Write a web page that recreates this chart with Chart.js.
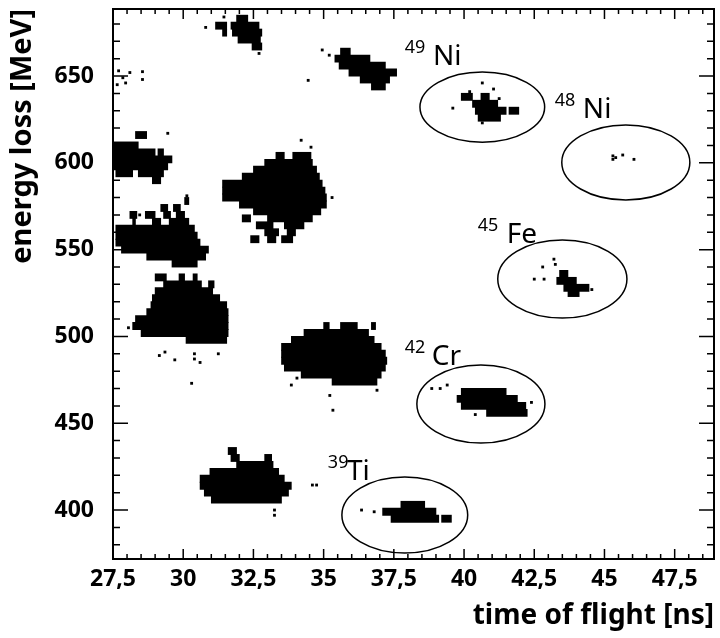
<!DOCTYPE html>
<html>
<head>
<meta charset="utf-8">
<script src="https://cdn.jsdelivr.net/npm/chart.js@4/dist/chart.umd.min.js"></script>
<style>
  html, body { margin: 0; padding: 0; background: #fff; }
  canvas { display: block; }
</style>
</head>
<body>
<canvas id="c" width="720" height="638"></canvas>
<script>
// rows of the 2D histogram: [energy loss MeV, tof from, tof to]
const blobTop = [
  [683, 31.9, 32.3],
  [679, 31.15, 31.55], [679, 31.7, 32.7],
  [675, 31.4, 31.55], [675, 31.75, 32.8],
  [671, 31.95, 32.75],
  [667, 32.45, 32.8]
];
const blobNi49 = [
  [664, 35.6, 35.95],
  [660, 35.4, 36.65],
  [656, 35.55, 37.2],
  [652, 35.9, 37.6],
  [648, 36.3, 37.35],
  [644, 36.7, 37.2]
];
const blobLeft600 = [
  [616, 28.3, 28.7],
  [610, 27.5, 28.4],
  [606, 27.5, 29.0], [606, 29.1, 29.3],
  [602, 27.5, 29.6],
  [598, 27.5, 29.45],
  [594, 27.6, 28.2], [594, 28.4, 29.3],
  [590, 28.9, 29.2]
];
const blobBig580 = [
  [604, 33.3, 33.6], [604, 33.9, 34.55],
  [600, 32.9, 34.6],
  [596, 32.5, 34.75],
  [592, 32.1, 34.85],
  [588, 31.4, 34.95],
  [584, 31.4, 35.05],
  [580, 31.4, 35.1],
  [576, 32.0, 35.1],
  [572, 32.5, 34.9],
  [568, 32.1, 32.4], [568, 33.0, 34.6],
  [564, 32.6, 33.2], [564, 33.6, 34.3],
  [560, 32.9, 33.4], [560, 33.7, 34.0],
  [556, 32.4, 32.7], [556, 33.0, 33.3], [556, 33.5, 33.9]
];
const blobLeft553 = [
  [578, 30.05, 30.2],
  [574, 29.2, 29.45], [574, 29.65, 29.9],
  [570, 28.1, 28.35], [570, 28.65, 29.0], [570, 29.3, 29.55], [570, 29.75, 30.05],
  [566, 28.2, 28.3], [566, 28.9, 29.2], [566, 29.5, 30.2],
  [562, 27.6, 30.4],
  [558, 27.6, 30.5],
  [554, 27.6, 30.6],
  [550, 27.8, 30.9],
  [546, 28.7, 30.8],
  [542, 29.6, 30.5]
];
const blob510 = [
  [534, 29.0, 29.4], [534, 29.85, 30.05], [534, 30.35, 30.5],
  [530, 29.3, 30.65], [530, 30.9, 31.1],
  [526, 29.0, 31.05],
  [522, 28.9, 31.3],
  [518, 28.85, 31.55],
  [514, 28.7, 31.6],
  [510, 28.3, 31.6],
  [506, 28.2, 31.6],
  [502, 28.5, 31.6],
  [498, 30.1, 31.55]
];
const blob487 = [
  [506, 35.0, 35.2], [506, 35.6, 36.2], [506, 36.7, 36.85],
  [502, 34.3, 36.6],
  [498, 33.85, 36.8],
  [494, 33.5, 37.05],
  [490, 33.5, 37.2],
  [486, 33.5, 37.25],
  [482, 33.6, 37.2],
  [478, 34.2, 37.05],
  [474, 35.3, 36.9]
];
const blob418 = [
  [434, 31.6, 31.9],
  [430, 31.7, 32.0], [430, 32.9, 33.15],
  [426, 31.9, 33.2],
  [422, 30.95, 33.4],
  [418, 30.6, 33.6],
  [414, 30.6, 33.85],
  [410, 30.75, 33.75],
  [406, 31.0, 33.5]
];
const blobNi48in = [
  [638, 39.9, 40.3], [638, 40.6, 40.9],
  [634, 40.3, 41.2],
  [630, 40.4, 41.5], [630, 41.6, 41.95],
  [626, 40.5, 41.3]
];
const blobFe = [
  [536, 43.4, 43.7],
  [532, 43.3, 44.0],
  [528, 43.55, 44.45],
  [525, 43.7, 44.1]
];
const blobCr = [
  [468, 39.9, 41.5],
  [464, 39.75, 41.9],
  [460, 39.9, 42.2],
  [456, 40.8, 42.25]
];
const blobTi = [
  [403, 37.75, 38.6],
  [399, 37.1, 39.0],
  [395, 37.4, 39.1], [395, 39.2, 39.55]
];

// single counts: [tof ns, energy loss MeV]
const specks = [
  [30.8, 678], [32.7, 663], [31.45, 684],
  [27.7, 653], [27.85, 649], [27.65, 645], [28.1, 652], [28.55, 652.5], [28.55, 648], [27.95, 646],
  [34.95, 665], [34.45, 647.5], [35.2, 662],
  [29.45, 617],
  [34.2, 613], [34.55, 609], [35.3, 580],
  [30.13, 581], [28.45, 570],
  [29.15, 489], [29.35, 491], [29.7, 486.5], [30.4, 490], [30.4, 487], [30.6, 485], [30.3, 473], [31.25, 490], [28.05, 505],
  [35.22, 466], [35.33, 457.5], [36.9, 469], [34.05, 476], [33.85, 472],
  [33.25, 400], [33.25, 397], [34.6, 414.4], [34.75, 414.4],
  [40.65, 646], [41.05, 642.5], [39.6, 631.5], [40.65, 623], [40.2, 641], [41.25, 637],
  [45.3, 604], [45.4, 603], [45.3, 602], [45.65, 604.5], [46.05, 602],
  [42.8, 540], [43.2, 544.5], [43.25, 541.5], [42.5, 533], [42.85, 533], [43.9, 524], [44.55, 527],
  [38.85, 470], [39.15, 470], [39.4, 472], [42.4, 462], [40.4, 455],
  [36.35, 400], [36.8, 399]
];

// gates: [centre tof, centre dE, half width ns, half height MeV]
const ellipses = [
  [40.65, 632.1, 2.22, 20.2],
  [45.76, 600.2, 2.28, 21.6],
  [43.5, 533.1, 2.3, 22.5],
  [40.6, 461.1, 2.28, 22.5],
  [37.89, 397.1, 2.24, 21.9]
];

const massNumbers = ['49', '48', '45', '42', '39'];
const elements = ['Ni', 'Ni', 'Fe', 'Cr', 'Ti'];
const massX = [37.89, 43.23, 40.49, 37.89, 35.15];
const elemX = [38.89, 44.23, 41.52, 38.85, 35.83];
const labelY = [656.3, 625.8, 553.8, 483.5, 417.3];

const xTicks = [27.5, 30, 32.5, 35, 37.5, 40, 42.5, 45, 47.5];
const yTicks = [400, 450, 500, 550, 600, 650];

const FONT = "'Noto Sans', 'DejaVu Sans', sans-serif";

const allRows = [].concat(blobTop, blobNi49, blobLeft600, blobBig580, blobLeft553,
  blob510, blob487, blob418, blobNi48in, blobFe, blobCr, blobTi);

const overlay = {
  id: 'overlay',
  afterDatasetsDraw(chart) {
    const { ctx, chartArea: a, scales: { x, y } } = chart;
    ctx.save();
    ctx.strokeStyle = '#000';
    ctx.fillStyle = '#000';

    // gates
    ctx.lineWidth = 1.5;
    ellipses.forEach(([cx, cy, rx, ry]) => {
      const px = x.getPixelForValue(cx), py = y.getPixelForValue(cy);
      const rpx = Math.abs(x.getPixelForValue(cx + rx) - px);
      const rpy = Math.abs(y.getPixelForValue(cy + ry) - py);
      ctx.beginPath();
      ctx.ellipse(px, py, rpx, rpy, 0, 0, Math.PI * 2);
      ctx.stroke();
    });

    // isotope names
    ctx.textBaseline = 'alphabetic';
    ctx.textAlign = 'left';
    elements.forEach((el, i) => {
      const by = y.getPixelForValue(labelY[i]);
      ctx.font = '18px ' + FONT;
      ctx.fillText(massNumbers[i], x.getPixelForValue(massX[i]), by - 12);
      ctx.font = '28px ' + FONT;
      ctx.fillText(el, x.getPixelForValue(elemX[i]), by);
    });

    // frame
    ctx.lineWidth = 2;
    ctx.strokeRect(a.left, a.top, a.right - a.left, a.bottom - a.top);

    // inward ticks on all four sides
    ctx.lineWidth = 1.5;
    ctx.beginPath();
    for (let i = 55; i <= 97; i++) {
      const v = i / 2;
      if (v > x.max) break;
      const px = x.getPixelForValue(v);
      const len = i % 5 === 0 ? 10 : 5;
      ctx.moveTo(px, a.bottom); ctx.lineTo(px, a.bottom - len);
      ctx.moveTo(px, a.top); ctx.lineTo(px, a.top + len);
    }
    for (let v = 380; v <= 680; v += 10) {
      const py = y.getPixelForValue(v);
      const len = v % 50 === 0 ? 15 : 7;
      ctx.moveTo(a.left, py); ctx.lineTo(a.left + len, py);
      ctx.moveTo(a.right, py); ctx.lineTo(a.right - len, py);
    }
    ctx.stroke();
    ctx.restore();
  }
};

new Chart(document.getElementById('c'), {
  type: 'scatter',
  data: {
    datasets: [
      {
        type: 'bar',
        indexAxis: 'y',
        data: allRows.map(r => ({ y: r[0], x: [r[1], r[2]] })),
        backgroundColor: '#000',
        borderWidth: 0,
        barThickness: 7.2,
        grouped: false
      },
      {
        type: 'scatter',
        data: specks.map(p => ({ x: p[0], y: p[1] })),
        pointStyle: 'rect',
        pointRadius: 2,
        backgroundColor: '#000',
        borderWidth: 0
      }
    ]
  },
  options: {
    responsive: false,
    animation: false,
    devicePixelRatio: 1,
    layout: { padding: { top: 9, right: 6, left: 0, bottom: 0 } },
    plugins: { legend: { display: false }, tooltip: { enabled: false } },
    scales: {
      x: {
        type: 'linear',
        min: 27.5,
        max: 48.9,
        offset: false,
        beginAtZero: false,
        grid: { display: false, drawTicks: false },
        border: { display: false },
        afterBuildTicks: s => { s.ticks = xTicks.map(v => ({ value: v })); },
        ticks: {
          autoSkip: false,
          maxRotation: 0,
          padding: 7,
          color: '#000',
          font: { family: FONT, size: 23, weight: 'bold' },
          callback: v => String(v).replace('.', ',')
        },
        title: {
          display: true,
          text: 'time of flight [ns]',
          align: 'end',
          color: '#000',
          font: { family: FONT, size: 28, weight: 'bold' },
          padding: { top: 0, bottom: 5 }
        },
        afterFit: s => { s.height = 79; s.paddingLeft = 0; s.paddingRight = 0; }
      },
      y: {
        type: 'linear',
        min: 371.8,
        max: 688.6,
        offset: false,
        grid: { display: false, drawTicks: false },
        border: { display: false },
        afterBuildTicks: s => { s.ticks = yTicks.map(v => ({ value: v })); },
        ticks: {
          autoSkip: false,
          padding: 19,
          color: '#000',
          font: { family: FONT, size: 23, weight: 'bold' }
        },
        title: {
          display: true,
          text: 'energy loss [MeV]',
          align: 'end',
          color: '#000',
          font: { family: FONT, size: 29, weight: 'bold' },
          padding: { top: 5, bottom: 0 }
        },
        afterFit: s => { s.width = 113; s.paddingTop = 0; s.paddingBottom = 0; }
      }
    }
  },
  plugins: [overlay]
});
</script>
</body>
</html>
